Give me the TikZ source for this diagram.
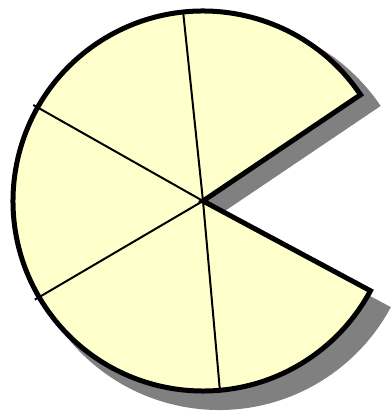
\documentclass[tikz,border=0pt]{standalone}
\definecolor{pieyellow}{HTML}{FFFFCC}
\definecolor{shadowgray}{HTML}{808080}
\begin{document}
\begin{tikzpicture}[x=1pt,y=1pt,
  outline/.style={line width=5pt, line join=miter},
  divider/.style={line width=2pt}]
\useasboundingbox (0,0) rectangle (391,412);
\coordinate (c) at (203,211);
\coordinate (s) at (219,197);
% shadow
\fill[shadowgray] (s) -- ++(34:195pt) arc[start angle=34, end angle=331.8, radius=195pt] -- cycle;
% pie fill
\fill[pieyellow] (c) -- ++(34:190pt) arc[start angle=34, end angle=331.8, radius=190pt] -- cycle;
% dividers
\draw[divider] (c) -- ++(96:190pt);
\draw[divider] (c) -- ++(150.5:195pt);
\draw[divider] (c) -- ++(210.4:195pt);
\draw[divider] (c) -- ++(275.1:190pt);
% outline
\draw[outline] (c) -- ++(34:190pt) arc[start angle=34, end angle=331.8, radius=190pt] -- cycle;
\end{tikzpicture}
\end{document}
